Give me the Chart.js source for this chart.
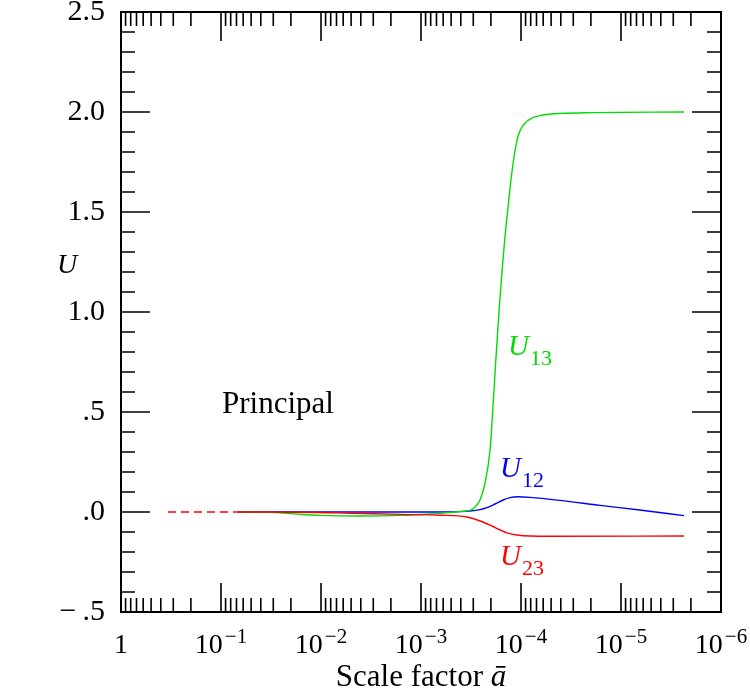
<!DOCTYPE html>
<html>
<head>
<meta charset="utf-8">
<script src="https://cdn.jsdelivr.net/npm/chart.js@4.4.1/dist/chart.umd.min.js"></script>
<style>
  html, body { margin: 0; background: #fff; }
</style>
</head>
<body>
<canvas id="chart" width="750" height="690"></canvas>
<script>
// decades on the x axis (scale factor a, running from 1 down to 1e-6)
const decadeExponents = [0, -1, -2, -3, -4, -5, -6];
const yTickValues = [-0.5, 0, 0.5, 1.0, 1.5, 2.0, 2.5];
const yTickLabels = ['\u2212\u2009.5', '.0', '.5', '1.0', '1.5', '2.0', '2.5'];

// dashed early part (all three components zero)
const dashA = [0.339, 0.0676];
const dashU = [0, 0];

// U13 (green)
const u13A = [0.0676, 0.0324, 0.0204, 0.0102, 0.0041, 0.0016, 8.1e-4, 5.1e-4, 3.9e-4, 3.24e-4,
              2.88e-4, 2.57e-4, 2.29e-4, 2.04e-4, 1.91e-4, 1.78e-4, 1.66e-4, 1.55e-4, 1.45e-4,
              1.35e-4, 1.26e-4, 1.17e-4, 1.07e-4, 9.3e-5, 7.8e-5, 6.0e-5, 4.0e-5, 2.0e-5, 2.34e-6];
const u13 = [0, -0.002, -0.008, -0.017, -0.02, -0.017, -0.01, -0.003, 0.003, 0.008,
             0.025, 0.06, 0.145, 0.31, 0.52, 0.77, 1.0, 1.2, 1.37,
             1.52, 1.66, 1.78, 1.88, 1.94, 1.97, 1.985, 1.993, 1.997, 2.0];

// U12 (blue)
const u12A = [0.0676, 0.0162, 0.0041, 0.00102, 4.07e-4, 3.24e-4, 2.57e-4, 2.19e-4, 1.82e-4,
              1.51e-4, 1.29e-4, 1.07e-4, 8.1e-5, 4.07e-5, 1.62e-5, 6.5e-6, 2.34e-6];
const u12 = [0, 0, 0, 0, 0.002, 0.005, 0.012, 0.022, 0.04,
             0.06, 0.072, 0.076, 0.073, 0.058, 0.033, 0.01, -0.018];

// U23 (red)
const u23A = [0.0676, 0.0162, 0.0051, 0.0016, 6.5e-4, 3.47e-4, 2.4e-4, 1.95e-4, 1.62e-4,
              1.35e-4, 1.1e-4, 8.1e-5, 5.0e-5, 2.34e-6];
const u23 = [0, -0.001, -0.006, -0.012, -0.016, -0.025, -0.05, -0.07, -0.09,
             -0.106, -0.115, -0.12, -0.121, -0.12];

const GREEN = '#00dd00';
const BLUE = '#0000ff';
const RED = '#ff0000';
const SERIF = '"Liberation Serif", "DejaVu Serif", serif';

const pts = (xs, ys) => xs.map((x, i) => ({ x: x, y: ys[i] }));

// text placed in data coordinates
const notes = [
    { a: 0.0977, u: 0.495, main: 'Principal', color: '#000', italic: false },
    { a: 1.35e-4, u: 0.785, main: 'U', sub: '13', color: GREEN, italic: true },
    { a: 1.62e-4, u: 0.175, main: 'U', sub: '12', color: BLUE, italic: true },
    { a: 1.62e-4, u: -0.265, main: 'U', sub: '23', color: RED, italic: true }
];

const framePlugin = {
    id: 'framePlugin',
    afterDraw(chart) {
        const { ctx, chartArea: area, scales: { x, y } } = chart;
        ctx.save();
        ctx.strokeStyle = '#000';
        ctx.lineWidth = 2;
        ctx.strokeRect(area.left, area.top, area.right - area.left, area.bottom - area.top);

        // inward ticks
        ctx.lineWidth = 1.6;
        ctx.beginPath();
        decadeExponents.forEach(e => {
            for (let m = 1; m <= 9; m++) {
                const v = m * Math.pow(10, e);
                if (v > 1) continue;
                const px = x.getPixelForValue(v);
                const len = m === 1 ? 29 : 14;
                ctx.moveTo(px, area.bottom); ctx.lineTo(px, area.bottom - len);
                ctx.moveTo(px, area.top); ctx.lineTo(px, area.top + len);
            }
        });
        for (let k = -5; k <= 25; k++) {
            const py = y.getPixelForValue(k / 10);
            const len = k % 5 === 0 ? 29 : 14;
            ctx.moveTo(area.left, py); ctx.lineTo(area.left + len, py);
            ctx.moveTo(area.right, py); ctx.lineTo(area.right - len, py);
        }
        ctx.stroke();

        // x tick labels: 1, 10^-1, ...
        ctx.fillStyle = '#000';
        ctx.textBaseline = 'alphabetic';
        ctx.textAlign = 'left';
        const base = area.bottom + 41;
        decadeExponents.forEach(e => {
            const px = x.getPixelForValue(Math.pow(10, e));
            ctx.font = '28px ' + SERIF;
            if (e === 0) {
                const w = ctx.measureText('1').width;
                ctx.fillText('1', px - w / 2, base);
                return;
            }
            const sup = '\u2212' + Math.abs(e);
            const w1 = ctx.measureText('10').width;
            ctx.font = '21px ' + SERIF;
            const w2 = ctx.measureText(sup).width + 2;
            const left = px - (w1 + w2) / 2;
            ctx.fillText(sup, left + w1 + 2, base - 10);
            ctx.font = '28px ' + SERIF;
            ctx.fillText('10', left, base);
        });

        // axis titles
        ctx.font = 'italic 28px ' + SERIF;
        ctx.fillText('U', area.left - 64, area.top + 261);
        ctx.font = '31px ' + SERIF;
        const t1 = 'Scale factor ';
        const w1 = ctx.measureText(t1).width;
        ctx.font = 'italic 31px ' + SERIF;
        const w2 = ctx.measureText('\u0101').width;
        const cx = (area.left + area.right) / 2;
        const tl = cx - (w1 + w2) / 2;
        ctx.font = '31px ' + SERIF;
        ctx.fillText(t1, tl, area.bottom + 74);
        ctx.font = 'italic 31px ' + SERIF;
        ctx.fillText('\u0101', tl + w1, area.bottom + 74);

        // in-plot labels
        notes.forEach(n => {
            const px = x.getPixelForValue(n.a);
            const py = y.getPixelForValue(n.u);
            ctx.fillStyle = n.color;
            ctx.font = (n.italic ? 'italic ' : '') + (n.sub ? '29px ' : '31px ') + SERIF;
            ctx.fillText(n.main, px, py);
            if (n.sub) {
                const w = ctx.measureText(n.main).width;
                ctx.font = '22px ' + SERIF;
                ctx.fillText(n.sub, px + w + 1, py + 10);
            }
        });
        ctx.restore();
    }
};

const ctx = document.getElementById('chart').getContext('2d');

new Chart(ctx, {
    type: 'line',
    data: {
        datasets: [
            { data: pts(dashA, dashU), borderColor: RED, borderDash: [8, 5] },
            { data: pts(u23A, u23), borderColor: RED },
            { data: pts(u13A, u13), borderColor: GREEN },
            { data: pts(u12A, u12), borderColor: BLUE }
        ]
    },
    options: {
        responsive: false,
        animation: false,
        devicePixelRatio: 1,
        elements: {
            point: { radius: 0 },
            line: { borderWidth: 1.4, cubicInterpolationMode: 'monotone', fill: false }
        },
        plugins: {
            legend: { display: false },
            tooltip: { enabled: false }
        },
        layout: { padding: { left: 0, right: 29, top: 12, bottom: 78 } },
        scales: {
            x: {
                type: 'logarithmic',
                reverse: true,
                min: 1e-6,
                max: 1,
                display: false
            },
            y: {
                type: 'linear',
                min: -0.5,
                max: 2.5,
                grid: { display: false, drawTicks: false },
                border: { display: false },
                afterBuildTicks: s => { s.ticks = yTickValues.map(v => ({ value: v })); },
                afterFit: s => { s.width = 121; s.paddingTop = 0; s.paddingBottom = 0; },
                ticks: {
                    padding: 16,
                    color: '#000',
                    font: { family: SERIF, size: 30 },
                    callback: (v, i) => yTickLabels[i]
                }
            }
        }
    },
    plugins: [framePlugin]
});
</script>
</body>
</html>
